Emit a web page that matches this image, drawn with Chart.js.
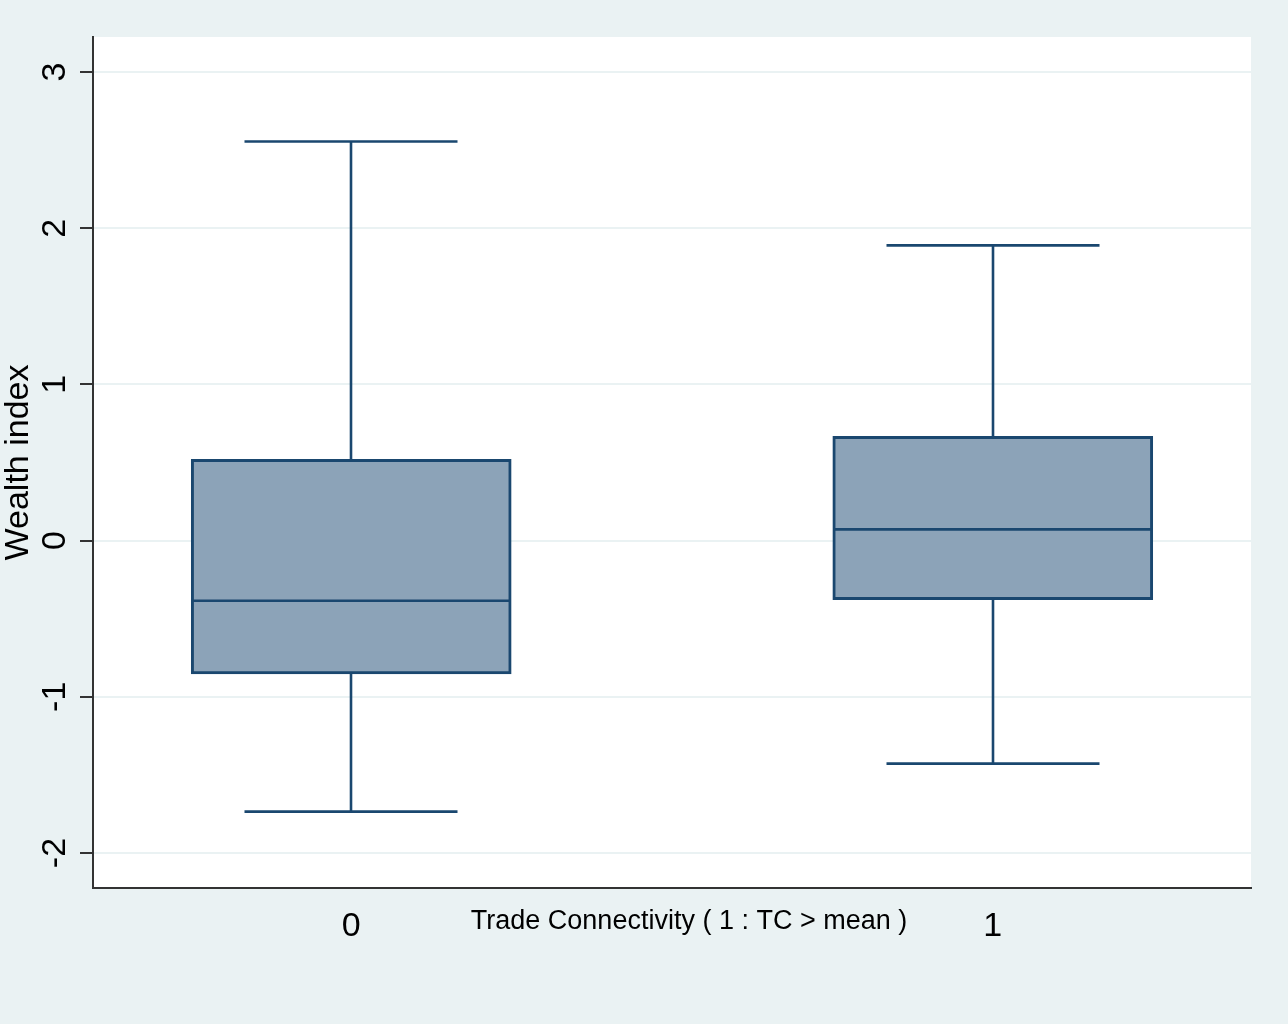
<!DOCTYPE html>
<html>
<head>
<meta charset="utf-8">
<script src="https://cdn.jsdelivr.net/npm/chart.js@4/dist/chart.umd.min.js"></script>
<style>
  html, body { margin: 0; padding: 0; background: #EAF2F3; }
  canvas { display: block; }
</style>
</head>
<body>
<canvas id="c" width="1288" height="1024"></canvas>
<script>
// ---- data ----
const categories = [0, 1];
const whiskerHigh = [2.555, 1.89];
const upperQuartile = [0.52, 0.667];
const median = [-0.385, 0.072];
const lowerQuartile = [-0.853, -0.378];
const whiskerLow = [-1.735, -1.428];
const yTicks = [-2, -1, 0, 1, 2, 3];
const xTitle = 'Trade Connectivity ( 1 : TC > mean )';
const yTitle = 'Wealth index';

const NAVY = '#1A476F';
const FILL = '#8CA3B8';
const BOX_W = 320;
const CAP_W = 213;
const LINE_W = 2.6;

const boxPlugin = {
  id: 'boxParts',
  beforeDraw(chart) {
    const {ctx, chartArea: a} = chart;
    ctx.save();
    ctx.fillStyle = '#FFFFFF';
    ctx.fillRect(a.left, a.top, a.right - a.left, a.bottom - a.top);
    ctx.restore();
  },
  afterDatasetsDraw(chart) {
    const {ctx, scales: {x, y}} = chart;
    ctx.save();
    ctx.strokeStyle = NAVY;
    ctx.lineWidth = LINE_W;
    categories.forEach((c, i) => {
      const cx = Math.round(x.getPixelForValue(c));
      const seg = (x1, y1, x2, y2) => { ctx.beginPath(); ctx.moveTo(x1, y1); ctx.lineTo(x2, y2); ctx.stroke(); };
      const yHi = y.getPixelForValue(whiskerHigh[i]);
      const yQ3 = y.getPixelForValue(upperQuartile[i]);
      const yMed = y.getPixelForValue(median[i]);
      const yQ1 = y.getPixelForValue(lowerQuartile[i]);
      const yLo = y.getPixelForValue(whiskerLow[i]);
      seg(cx, yHi, cx, yQ3);
      seg(cx, yQ1, cx, yLo);
      seg(cx - CAP_W / 2, yHi, cx + CAP_W / 2, yHi);
      seg(cx - CAP_W / 2, yLo, cx + CAP_W / 2, yLo);
      seg(cx - BOX_W / 2 + 1, yMed, cx + BOX_W / 2 - 1, yMed);
    });
    ctx.restore();
  },
  afterDraw(chart) {
    const {ctx} = chart;
    ctx.save();
    ctx.fillStyle = '#000';
    ctx.font = '27px "Liberation Sans", Arial, sans-serif';
    ctx.textAlign = 'center';
    ctx.textBaseline = 'middle';
    ctx.fillText(xTitle, 689, 922);
    ctx.restore();
  }
};

new Chart(document.getElementById('c'), {
  type: 'bar',
  data: {
    datasets: [{
      data: categories.map((c, i) => ({x: c, y: [lowerQuartile[i], upperQuartile[i]]})),
      backgroundColor: FILL,
      borderColor: NAVY,
      borderWidth: 3,
      borderSkipped: false,
      barThickness: BOX_W
    }]
  },
  options: {
    responsive: false,
    animation: false,
    events: [],
    layout: { padding: { top: 37, right: 37, left: 0, bottom: 0 } },
    plugins: { legend: { display: false }, tooltip: { enabled: false } },
    scales: {
      x: {
        type: 'linear',
        min: -0.4025,
        max: 1.4025,
        offset: false,
        afterBuildTicks: s => { s.ticks = categories.map(v => ({value: v})); },
        afterFit: s => { s.height = 136; },
        grid: { display: false, drawTicks: false, offset: false },
        border: { display: true, color: '#333333', width: 2 },
        ticks: { color: '#000', font: { family: '"Liberation Sans", Arial, sans-serif', size: 34 }, padding: 18, callback: v => String(v), maxRotation: 0 }
      },
      y: {
        type: 'linear',
        min: -2.224,
        max: 3.224,
        afterBuildTicks: s => { s.ticks = yTicks.map(v => ({value: v})); },
        afterFit: s => { s.width = 93; },
        grid: { color: '#EAF2F3', lineWidth: 2, drawTicks: true, tickLength: 13, tickColor: '#333333', tickWidth: 2 },
        border: { display: true, color: '#333333', width: 2 },
        ticks: { color: '#000', font: { family: '"Liberation Sans", Arial, sans-serif', size: 34 }, padding: 9, minRotation: 90, maxRotation: 90, crossAlign: 'center', callback: v => String(v) },
        title: { display: true, text: yTitle, color: '#000', font: { family: '"Liberation Sans", Arial, sans-serif', size: 34, lineHeight: 1 }, padding: { top: 2, bottom: 0 } }
      }
    }
  },
  plugins: [boxPlugin]
});
</script>
</body>
</html>
